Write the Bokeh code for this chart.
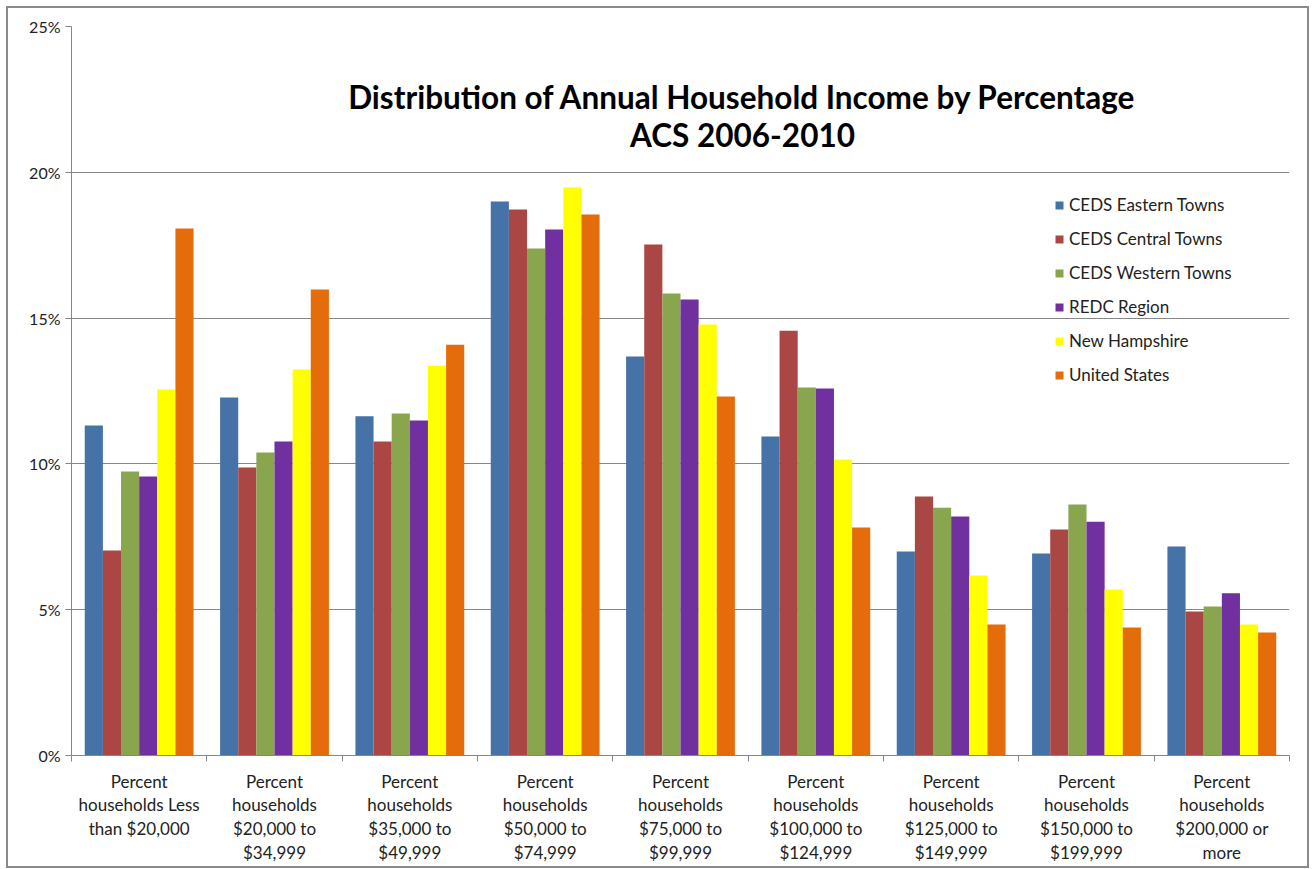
from bokeh.plotting import figure
from bokeh.models import (Range1d, LinearAxis, FixedTicker,
                          Label, Legend, LegendItem, PrintfTickFormatter, ColumnDataSource)
from bokeh.transform import dodge
from bokeh.embed import file_html
from bokeh.resources import INLINE

categories = [
    "Percent\nhouseholds Less\nthan $20,000",
    "Percent\nhouseholds\n$20,000 to\n$34,999",
    "Percent\nhouseholds\n$35,000 to\n$49,999",
    "Percent\nhouseholds\n$50,000 to\n$74,999",
    "Percent\nhouseholds\n$75,000 to\n$99,999",
    "Percent\nhouseholds\n$100,000 to\n$124,999",
    "Percent\nhouseholds\n$125,000 to\n$149,999",
    "Percent\nhouseholds\n$150,000 to\n$199,999",
    "Percent\nhouseholds\n$200,000 or\nmore",
]
series_names = ["CEDS Eastern Towns", "CEDS Central Towns", "CEDS Western Towns",
                "REDC Region", "New Hampshire", "United States"]
eastern = [11.32, 12.28, 11.63, 19.00, 13.68, 10.94, 7.00, 6.93, 7.17]
central = [7.03, 9.88, 10.77, 18.72, 17.52, 14.57, 8.88, 7.75, 4.94]
western = [9.74, 10.39, 11.73, 17.39, 15.84, 12.62, 8.50, 8.61, 5.11]
redc = [9.57, 10.77, 11.49, 18.04, 15.64, 12.59, 8.20, 8.02, 5.56]
new_hampshire = [12.55, 13.24, 13.37, 19.48, 14.78, 10.15, 6.17, 5.69, 4.49]
united_states = [18.07, 15.98, 14.09, 18.55, 12.31, 7.82, 4.49, 4.39, 4.22]
colors = ["#4572A7", "#AA4643", "#89A54E", "#7030A0", "#FFFF00", "#E46C0A"]
y_ticks = [0, 5, 10, 15, 20, 25]
title_lines = ["Distribution of Annual Household Income by Percentage", "ACS 2006-2010"]

series_values = [eastern, central, western, redc, new_hampshire, united_states]
n = len(categories)
centers = [i + 0.5 for i in range(n)]
keys = ["s%d" % i for i in range(6)]
data = {"x": centers}
for k, v in zip(keys, series_values):
    data[k] = v
source = ColumnDataSource(data)

FONT = "Lato"
GRAY = "#868686"

p = figure(x_range=Range1d(0, n), y_range=Range1d(0, 25),
           width=1303, height=862, output_backend="svg", toolbar_location=None,
           x_axis_location=None, y_axis_location=None,
           min_border_left=63, min_border_right=22, min_border_top=18, min_border_bottom=115)
p.margin = (6, 0, 0, 6)
p.styles = {"border": "2px solid #8a8a8a"}
p.outline_line_color = None
p.background_fill_color = "white"
p.border_fill_color = "white"

# y axis
yax = LinearAxis(ticker=FixedTicker(ticks=y_ticks), formatter=PrintfTickFormatter(format="%d%%"),
                 axis_line_color=GRAY, major_tick_line_color=GRAY, major_tick_out=6, major_tick_in=0,
                 minor_tick_line_color=None, major_label_text_font=FONT,
                 major_label_text_font_size="16px", major_label_text_color="#222222",
                 major_label_standoff=5)
p.add_layout(yax, "left")
p.ygrid.grid_line_color = GRAY
p.ygrid.ticker = FixedTicker(ticks=y_ticks)
p.xgrid.grid_line_color = None

# divider ticks between categories
dividers = list(range(n + 1))
dax = LinearAxis(ticker=FixedTicker(ticks=dividers),
                 major_label_overrides={d: "" for d in dividers},
                 axis_line_color=GRAY, major_tick_line_color=GRAY, major_tick_out=6, major_tick_in=0,
                 minor_tick_line_color=None, major_label_standoff=0)
p.add_layout(dax, "below")
# category labels
xax = LinearAxis(ticker=FixedTicker(ticks=centers),
                 major_label_overrides={c: lab for c, lab in zip(centers, categories)},
                 axis_line_color=None, major_tick_line_color=None, minor_tick_line_color=None,
                 major_label_text_font=FONT, major_label_text_font_size="17px",
                 major_label_text_color="#222222", major_label_standoff=3,
                 major_label_text_line_height=1.14)
p.add_layout(xax, "below")

bw = 0.134
offsets = [(-2.5 + i) * bw for i in range(6)]
items = []
for k, name, c, off in zip(keys, series_names, colors, offsets):
    r = p.vbar(x=dodge("x", off), top=k, width=bw, source=source,
               fill_color=c, line_color=None)
    items.append(LegendItem(label=name, renderers=[r]))

legend = Legend(items=items, location=(983, 370), border_line_color=None,
                background_fill_alpha=0, padding=0, margin=0,
                label_text_font=FONT, label_text_font_size="17px", label_text_color="#222222",
                glyph_width=10, glyph_height=10, label_height=21, spacing=13, label_standoff=5)
p.add_layout(legend)

for i, t in enumerate(title_lines):
    p.add_layout(Label(x=671, y=755 - 26 - 70 - i * 38, x_units="screen", y_units="screen",
                       text=t, text_font=FONT, text_font_style="bold", text_font_size="31.5px",
                       text_align="center", text_baseline="middle", text_color="black"))

open("out.html", "w").write(file_html(p, INLINE))
